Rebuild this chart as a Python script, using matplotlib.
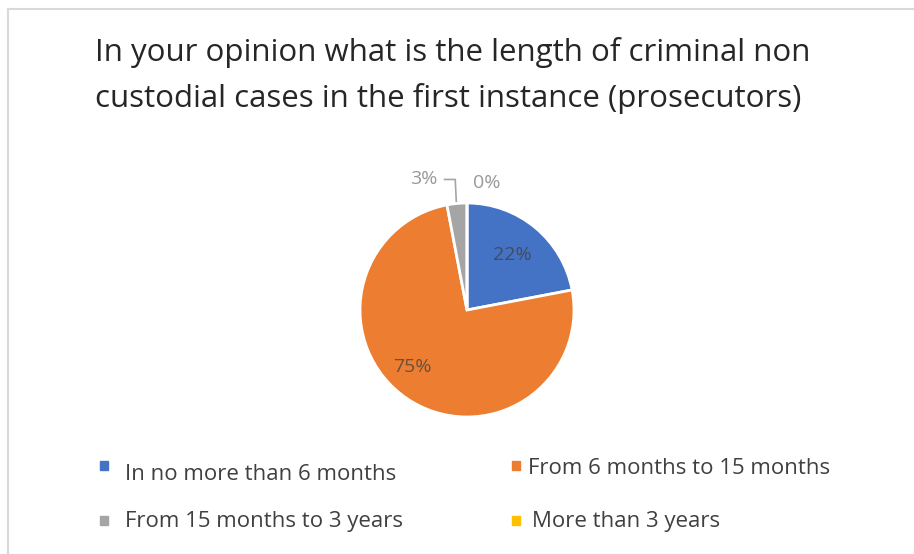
import matplotlib
matplotlib.use("Agg")
import matplotlib.pyplot as plt
import numpy as np
from matplotlib.patches import Rectangle
from matplotlib.lines import Line2D

title = "In your opinion what is the length of criminal non\ncustodial cases in the first instance (prosecutors)"
categories = ["In no more than 6 months", "From 6 months to 15 months",
              "From 15 months to 3 years", "More than 3 years"]
values = [22, 75, 3, 0]
labels = ["22%", "75%", "3%", "0%"]
colors = ["#4472C4", "#ED7D31", "#A5A5A5", "#FFC000"]

plt.rcParams['font.family'] = ['Open Sans', 'DejaVu Sans']

W, H = 914, 554
fig = plt.figure(figsize=(W / 100, H / 100), dpi=100)
fig.patch.set_facecolor("white")

# border (light gray, top and left visible)
fig.add_artist(Line2D([8 / W, 8 / W], [0, 1 - 9 / H], color="#D9D9D9", lw=1.5))
fig.add_artist(Line2D([8 / W, 1], [1 - 9 / H, 1 - 9 / H], color="#D9D9D9", lw=1.5))

fig.text(95 / W, 1 - 52 / H, title.split("\n")[0], ha="left", va="center", fontsize=22.5,
         color="#262626")
fig.text(95 / W, 1 - 98 / H, title.split("\n")[1], ha="left", va="center", fontsize=22.5,
         color="#262626")

cx, cy, r = 467, 310, 107
ax = fig.add_axes([(cx - r) / W, (H - cy - r) / H, 2 * r / W, 2 * r / H])
ax.set_xlim(-1, 1)
ax.set_ylim(-1, 1)
ax.axis("off")
wedges, _ = ax.pie(values, colors=colors, startangle=90, counterclock=False,
                   radius=1.0, wedgeprops=dict(edgecolor="white", linewidth=2))
ax.set_xlim(-1, 1)
ax.set_ylim(-1, 1)

# inside labels
for w, lab, dist in [(wedges[0], labels[0], 0.67), (wedges[1], labels[1], 0.74)]:
    ang = np.deg2rad((w.theta1 + w.theta2) / 2)
    if lab == "75%":
        ang = np.deg2rad(-134)
    ax.text(dist * np.cos(ang), dist * np.sin(ang), lab, ha="center", va="center",
            fontsize=14, color="#404040", alpha=0.75)

# outside labels
g = wedges[2]
ga = np.deg2rad((g.theta1 + g.theta2) / 2)
ax.text(-0.40, 1.22, labels[2], ha="center", va="center", fontsize=14, color="#999999",
        clip_on=False)
ax.text(0.18, 1.19, labels[3], ha="center", va="center", fontsize=14, color="#999999",
        clip_on=False)
ax.plot([-0.21, -0.11, -0.10], [1.22, 1.22, 1.0 * np.sin(ga) + 0.02], color="#A5A5A5",
        lw=1.2, clip_on=False)

# legend
pos = [(100, 474, 465), (512, 468, 465), (100, 521, 520), (512, 521, 520)]
text_x = [125, 528, 125, 532]
for (mx, ty, my), tx, cat, col in zip(pos, text_x, categories, colors):
    fig.add_artist(Rectangle((mx / W, (H - my - 4.5) / H), 8 / W, 9 / H,
                             transform=fig.transFigure, color=col))
    fig.text(tx / W, 1 - ty / H, cat, ha="left", va="center", fontsize=16,
             color="#404040")

fig.savefig("out.png", dpi=100)
